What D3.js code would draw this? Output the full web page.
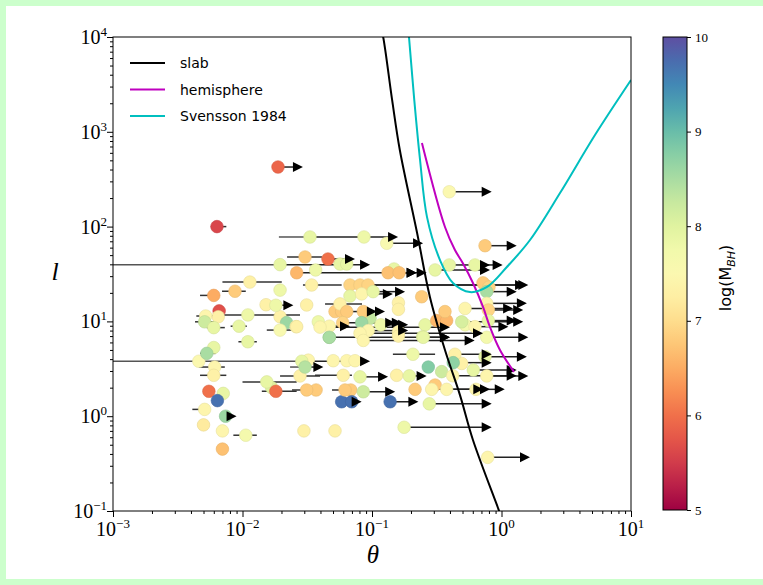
<!DOCTYPE html>
<html>
<head>
<meta charset="utf-8">
<script src="https://cdn.jsdelivr.net/npm/d3@7"></script>
<style>
  body { margin: 0; background: #ccffcc; }
  svg { display: block; }
</style>
</head>
<body>
<svg id="chart" width="763" height="585"></svg>
<script>
// theory curves, [theta, l]
const slabCurve = [[0.115, 14000], [0.122, 10000], [0.143, 2170], [0.164, 643], [0.223, 85.6], [0.28, 18.1],
  [0.366, 4.99], [0.478, 1.67], [0.602, 0.561], [0.94, 0.1076], [1.0, 0.085]];
const hemiCurve = [[0.243, 762], [0.366, 99], [0.437, 56.6], [0.502, 41.3], [0.602, 25.4], [0.72, 14.2],
  [0.815, 8.7], [0.973, 4.99], [1.25, 2.93]];
const svenssonCurve = [[0.188, 14000], [0.193, 10000], [0.212, 2170], [0.235, 504], [0.266, 126], [0.335, 44.4],
  [0.422, 25.4], [0.571, 20.4], [0.773, 23.1], [1.10, 37.5], [1.66, 72.2], [2.83, 226], [5.27, 925], [10, 3520]];

// [theta, l, logM]
const plainPoints = [
  [0.0867, 77.7, 7.8], [0.0195, 21.4, 7.8], [0.0152, 15.0, 7.3], [0.0066, 12.9, 5.7], [0.0065, 11.2, 7.3],
  [0.0195, 11.2, 7.3], [0.0219, 9.7, 8.6], [0.0259, 8.8, 7.4], [0.0060, 5.3, 7.9], [0.0046, 3.8, 7.5],
  [0.0168, 2.0, 8.0], [0.0055, 1.83, 6.0], [0.0071, 1.74, 7.9], [0.0064, 1.46, 9.7], [0.0050, 0.81, 7.2],
  [0.0070, 0.70, 7.4], [0.0070, 0.45, 6.7], [0.0566, 40.3, 7.9], [0.0638, 40.3, 7.9], [0.0367, 34.9, 7.8],
  [0.148, 35.7, 7.9], [0.0676, 24.2, 6.9], [0.746, 24.2, 6.8], [0.72, 25.5, 6.8], [0.80, 23.0, 6.9],
  [0.0676, 18.5, 7.9], [0.242, 18.2, 6.8], [0.0313, 14.9, 7.3], [0.160, 15.7, 7.3], [0.160, 13.4, 7.3],
  [0.0518, 12.7, 6.8], [0.0583, 12.7, 6.8], [0.0385, 9.9, 7.8], [0.0966, 10.8, 8.3], [0.0262, 8.8, 7.3],
  [0.160, 7.8, 7.3], [0.160, 7.0, 7.3],
  [0.257, 9.2, 7.9], [0.316, 10.2, 6.6], [0.377, 10.2, 6.6], [0.246, 6.9, 7.9], [0.0468, 6.8, 8.5],
  [0.0322, 3.9, 7.4], [0.0502, 3.85, 7.4], [0.0638, 3.85, 7.4], [0.0739, 3.85, 7.4], [0.272, 3.3, 8.8],
  [0.155, 2.7, 7.3], [0.037, 1.89, 6.8], [0.0685, 1.89, 6.8], [0.215, 1.92, 6.8], [0.307, 2.13, 6.8],
  [0.0583, 1.42, 9.7], [0.0298, 0.70, 7.3], [0.0518, 0.70, 7.3], [0.493, 3.6, 7.3], [0.345, 2.95, 8.2],
  [0.366, 12.7, 6.8], [0.524, 9.2, 7.7]
];

// [theta, l, logM, thetaLow, thetaHigh]
const errorPoints = [
  [0.00635, 100, 5.6, 0.0057, 0.0075], [0.0114, 26, 7.3, 0.0070, 0.0201], [0.00875, 20.8, 6.8, 0.00695, 0.0106],
  [0.0060, 18.8, 6.5, 0.0047, 0.0066], [0.0052, 11.4, 7.4, 0.0044, 0.0065], [0.011, 11.7, 7.8, 0.0061, 0.0278],
  [0.0051, 9.9, 8.2, 0.0043, 0.0061], [0.0060, 8.6, 7.9, 0.0053, 0.0073], [0.0094, 8.9, 7.9, 0.0081, 0.0108],
  [0.0195, 8.1, 7.6, 0.0154, 0.0254], [0.011, 6.1, 7.9, 0.0093, 0.0129], [0.0053, 4.6, 8.5, 0.0047, 0.0062],
  [0.0061, 3.3, 7.4, 0.0046, 0.0073], [0.0060, 2.7, 7.3, 0.0047, 0.0075], [0.0154, 2.3, 7.9, 0.0100, 0.0262],
  [0.0181, 1.83, 6.0, 0.0141, 0.0262], [0.0051, 1.18, 7.4, 0.0041, 0.0056], [0.0106, 0.63, 7.7, 0.0085, 0.0129],
  [0.0304, 47.8, 6.8, 0.0221, 0.0411], [0.0342, 24.2, 7.3, 0.0293, 0.0583], [0.0566, 15.3, 7.3, 0.0434, 0.0837],
  [0.207, 4.5, 7.8, 0.145, 0.307], [0.0278, 2.66, 7.3, 0.0195, 0.0397], [0.060, 2.7, 7.3, 0.0363, 0.070],
  [0.0313, 1.89, 6.8, 0.0241, 0.034], [0.0619, 1.89, 6.8, 0.0491, 0.0619]
];

// lower limits on theta: [theta, l, logM, arrowEnd]
const limitPoints = [
  [0.0188, 425, 5.9, 0.0293], [0.13, 66.7, 7.6, 0.248], [0.395, 233, 7.5, 0.84], [0.746, 62.9, 6.8, 1.31],
  [0.782, 0.368, 7.4, 1.66], [0.177, 0.764, 7.8, 0.84], [0.0262, 32.6, 6.6, 0.221], [0.0181, 14.8, 7.8, 0.0247],
  [0.0074, 1.0, 8.6, 0.0090], [0.0457, 45.5, 6.0, 0.0739], [0.133, 32.6, 6.7, 0.221], [0.162, 32.6, 6.7, 0.264],
  [0.307, 34.9, 7.9, 0.815], [0.395, 39.4, 7.9, 0.815], [0.624, 39.4, 7.9, 1.02], [0.0808, 24.2, 6.9, 1.52],
  [0.0931, 24.2, 6.9, 1.61], [0.769, 20.6, 8.5, 1.31], [0.0832, 19.5, 7.4, 0.145], [0.102, 20.6, 7.9, 0.18],
  [0.0857, 12.7, 6.8, 0.126], [0.0638, 12.7, 6.8, 0.109], [0.0594, 9.7, 6.9, 0.151], [0.0832, 9.7, 8.6, 0.170],
  [0.0468, 8.9, 7.4, 0.0676], [0.0936, 8.0, 7.4, 0.19], [0.117, 9.2, 7.8, 0.19], [0.0808, 2.6, 7.9, 0.133],
  [0.194, 2.66, 7.9, 0.264], [0.0857, 1.81, 8.2, 0.151], [0.289, 1.92, 7.4, 0.724], [0.377, 1.92, 7.4, 0.815],
  [0.635, 1.92, 7.4, 1.06], [0.0697, 1.42, 9.7, 0.0832], [0.138, 1.42, 9.7, 0.228], [0.277, 1.35, 7.9, 0.84],
  [0.437, 4.5, 7.3, 0.84], [0.746, 4.24, 7.9, 1.57], [0.424, 3.67, 8.7, 0.84], [0.606, 3.07, 7.9, 1.31],
  [0.42, 2.67, 7.4, 1.31], [0.769, 2.66, 7.4, 1.61], [0.523, 13.7, 7.4, 1.23], [0.769, 15.5, 7.4, 1.57],
  [0.791, 13.2, 6.9, 1.47], [0.791, 10.2, 7.9, 1.31], [0.493, 9.9, 8.1, 1.47], [0.624, 8.8, 7.4, 1.13],
  [0.249, 6.8, 7.9, 0.40], [0.769, 6.8, 7.7, 1.61], [0.0468, 6.8, 8.5, 0.40],
  [0.0397, 8.7, 7.4, 0.40], [0.0808, 7.5, 7.4, 0.72], [0.0857, 6.3, 7.4, 0.62]
];

// limits that also carry a left error bar: [theta, l, logM, thetaLow, arrowEnd]
const wideLimits = [
  [0.0332, 77.7, 7.9, 0.0191, 0.159], [0.0195, 39.7, 7.9, 0.0005, 0.0966],
  [0.0287, 3.8, 7.9, 0.0005, 0.0966], [0.0304, 3.3, 8.4, 0.0233, 0.0421]
];

const legendNames = ["slab", "hemisphere", "Svensson 1984"];
const legendColors = ["#000000", "#bf00bf", "#00bfbf"];
const xMajor = [1e-3, 1e-2, 1e-1, 1e0, 1e1];
const yMajor = [1e-1, 1e0, 1e1, 1e2, 1e3, 1e4];
const cbTicks = [5, 6, 7, 8, 9, 10];

const pLeft = 113, pRight = 631, pTop = 37, pBottom = 511;
const x = d3.scaleLog().domain([1e-3, 1e1]).range([pLeft, pRight]);
const y = d3.scaleLog().domain([1e-1, 1e4]).range([pBottom, pTop]);
const cScale = d3.scaleLinear().domain([5, 10]).range([0, 1]);
const color = v => d3.interpolateSpectral(cScale(v));
const minorTicks = (lo, hi) => d3.range(lo, hi).flatMap(e => d3.range(2, 10).map(m => m * Math.pow(10, e)));

const svg = d3.select("#chart");
svg.append("rect").attr("x", 6).attr("y", 6).attr("width", 757).attr("height", 573).attr("fill", "#fff");

svg.append("clipPath").attr("id", "plotclip").append("rect")
  .attr("x", pLeft).attr("y", pTop).attr("width", pRight - pLeft).attr("height", pBottom - pTop);
const plot = svg.append("g").attr("clip-path", "url(#plotclip)");

// error bars and arrow shafts
const headLen = 10, headHalf = 5;
const shaft = (g, x1, x2, yy, col) => g.append("line")
  .attr("x1", x1).attr("x2", x2).attr("y1", yy).attr("y2", yy)
  .attr("stroke", col).attr("stroke-width", 1.5);

errorPoints.forEach(d => shaft(plot, x(d[3]), x(d[4]), y(d[1]), "#333"));
wideLimits.forEach(d => {
  shaft(plot, x(d[3]), x(d[0]), y(d[1]), "#555");
  shaft(plot, x(d[0]), x(d[4]) - headLen + 1, y(d[1]), "#222");
});
limitPoints.forEach(d => shaft(plot, x(d[0]), x(d[3]) - headLen + 1, y(d[1]), "#222"));

// markers
const allMarkers = plainPoints.concat(errorPoints, limitPoints, wideLimits);
plot.selectAll("circle.pt")
  .data(allMarkers)
  .join("circle")
  .attr("class", "pt")
  .attr("cx", d => x(d[0]))
  .attr("cy", d => y(d[1]))
  .attr("r", 6.3)
  .attr("fill", d => color(d[2]))
  .attr("stroke", d => d3.color(color(d[2])).darker(0.25))
  .attr("stroke-width", 0.6);

// arrow heads
const heads = limitPoints.map(d => [d[3], d[1]]).concat(wideLimits.map(d => [d[4], d[1]]));
plot.selectAll("path.head")
  .data(heads)
  .join("path")
  .attr("class", "head")
  .attr("d", d => {
    const tx = x(d[0]), ty = y(d[1]);
    return `M${tx},${ty}L${tx - headLen},${ty - headHalf}L${tx - headLen},${ty + headHalf}Z`;
  })
  .attr("fill", "#000");

// theory curves
const line = d3.line().x(d => x(d[0])).y(d => y(d[1])).curve(d3.curveCatmullRom);
[slabCurve, hemiCurve, svenssonCurve].forEach((c, i) => {
  plot.append("path").datum(c).attr("d", line)
    .attr("fill", "none").attr("stroke", legendColors[i]).attr("stroke-width", 2);
});

// frame + axes
svg.append("rect").attr("x", pLeft).attr("y", pTop).attr("width", pRight - pLeft).attr("height", pBottom - pTop)
  .attr("fill", "none").attr("stroke", "#000").attr("stroke-width", 1);

const xg = svg.append("g").attr("transform", `translate(0,${pBottom})`);
xg.call(d3.axisBottom(x).tickValues(xMajor).tickFormat("").tickSize(6));
xg.append("g").call(d3.axisBottom(x).tickValues(minorTicks(-3, 1)).tickFormat("").tickSize(3));
const yg = svg.append("g").attr("transform", `translate(${pLeft},0)`);
yg.call(d3.axisLeft(y).tickValues(yMajor).tickFormat("").tickSize(6));
yg.append("g").call(d3.axisLeft(y).tickValues(minorTicks(-1, 4)).tickFormat("").tickSize(3));
svg.selectAll(".domain").remove();

const serif = "'Liberation Serif', 'DejaVu Serif', serif";
const powLabel = (g, v) => {
  const e = Math.round(Math.log10(v));
  g.append("tspan").text("10");
  g.append("tspan").attr("dy", -8).attr("font-size", 13).text(e < 0 ? "\u2212" + (-e) : e);
};
xMajor.forEach(v => {
  const t = svg.append("text").attr("x", x(v)).attr("y", 536).attr("text-anchor", "middle")
    .attr("font-family", serif).attr("font-size", 20);
  powLabel(t, v);
});
yMajor.forEach(v => {
  const t = svg.append("text").attr("x", pLeft - 6).attr("y", y(v) + 7).attr("text-anchor", "end")
    .attr("font-family", serif).attr("font-size", 20);
  powLabel(t, v);
});

svg.append("text").attr("x", 373).attr("y", 563).attr("text-anchor", "middle")
  .attr("font-family", serif).attr("font-style", "italic").attr("font-size", 25).text("\u03b8");
svg.append("text").attr("x", 55).attr("y", 280).attr("text-anchor", "middle")
  .attr("font-family", serif).attr("font-style", "italic").attr("font-size", 26).text("l");

// legend
legendNames.forEach((name, i) => {
  const ly = 63 + i * 26.5;
  svg.append("line").attr("x1", 130).attr("x2", 165).attr("y1", ly).attr("y2", ly)
    .attr("stroke", legendColors[i]).attr("stroke-width", 2);
  svg.append("text").attr("x", 180).attr("y", ly + 5).attr("font-family", "'DejaVu Sans', sans-serif")
    .attr("font-size", 14).text(name);
});

// colorbar
const cbX = 663, cbW = 24, cbTop = 37, cbBottom = 510;
const grad = svg.append("defs").append("linearGradient").attr("id", "cbgrad")
  .attr("x1", 0).attr("y1", 1).attr("x2", 0).attr("y2", 0);
d3.range(0, 1.0001, 0.05).forEach(t => grad.append("stop").attr("offset", t).attr("stop-color", d3.interpolateSpectral(t)));
svg.append("rect").attr("x", cbX).attr("y", cbTop).attr("width", cbW).attr("height", cbBottom - cbTop)
  .attr("fill", "url(#cbgrad)").attr("stroke", "#000").attr("stroke-width", 1);
const cy = d3.scaleLinear().domain([5, 10]).range([cbBottom, cbTop]);
const cg = svg.append("g").attr("transform", `translate(${cbX + cbW},0)`);
cg.call(d3.axisRight(cy).tickValues(cbTicks).tickSize(4).tickFormat(d3.format("d")));
cg.select(".domain").remove();
cg.selectAll("text").attr("font-family", serif).attr("font-size", 13).attr("fill", "#000").attr("x", 8);

const cbl = svg.append("text").attr("transform", "translate(731,278) rotate(-90)").attr("text-anchor", "middle")
  .attr("font-family", "'DejaVu Sans', sans-serif").attr("font-size", 16);
cbl.append("tspan").text("log(M");
cbl.append("tspan").attr("dy", 4).attr("font-size", 11).attr("font-style", "italic").text("BH");
cbl.append("tspan").attr("dy", -4).text(")");
</script>
</body>
</html>
